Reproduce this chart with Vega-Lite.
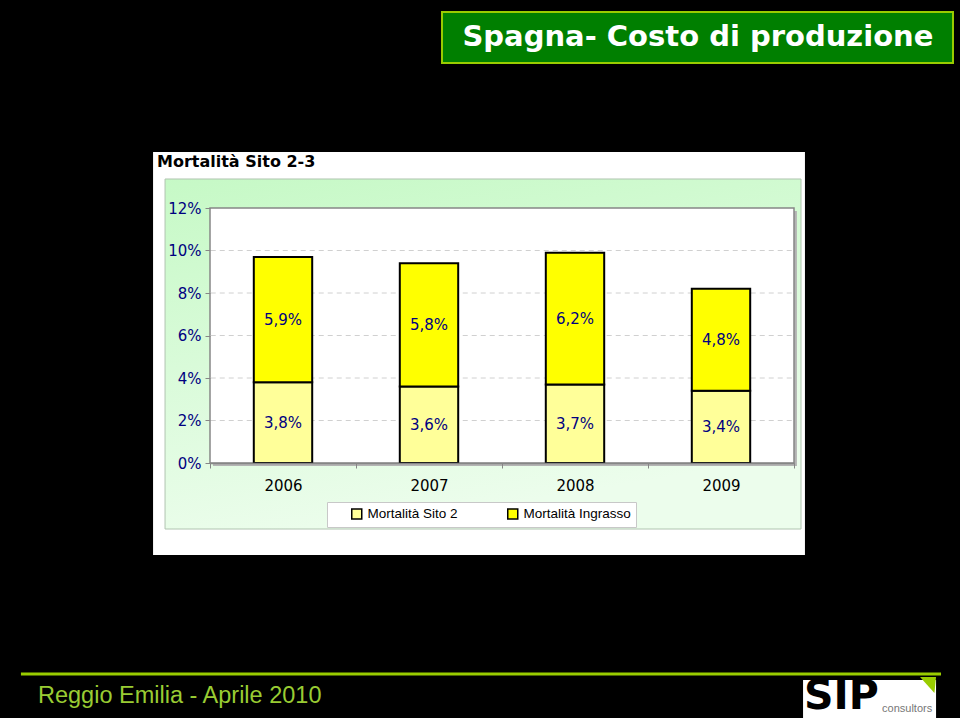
{
  "$schema": "https://vega.github.io/schema/vega-lite/v6.json",
  "background": "black",
  "autosize": {"type": "none"},
  "width": 584,
  "height": 255,
  "padding": {"left": 210, "top": 208, "right": 166, "bottom": 255},
  "config": {
    "locale": {"number": {"decimal": ",", "thousands": ".", "grouping": [3], "currency": ["€", ""]}},
    "view": {"stroke": null}
  },
  "resolve": {"scale": {"x": "independent", "y": "independent"}},
  "layer": [
    {
      "data": {"values": [{}]},
      "layer": [
        {
          "mark": {"type": "rect", "fill": "white"},
          "encoding": {
            "x": {"datum": -0.39, "type": "quantitative", "scale": {"domain": [0, 4], "nice": false, "zero": false}, "axis": null},
            "x2": {"datum": 4.075},
            "y": {"datum": -4.329, "type": "quantitative", "scale": {"domain": [0, 12], "nice": false, "zero": false}, "axis": null},
            "y2": {"datum": 14.635}
          }
        },
        {
          "mark": {"type": "rect", "stroke": "#b0c4b0", "strokeWidth": 1,
            "fill": {"gradient": "linear", "x1": 0, "y1": 0, "x2": 0.3, "y2": 1,
              "stops": [{"offset": 0, "color": "#c6f9c6"}, {"offset": 1, "color": "#ecfdec"}]}},
          "encoding": {
            "x": {"datum": -0.308, "type": "quantitative", "scale": {"domain": [0, 4], "nice": false, "zero": false}, "axis": null},
            "x2": {"datum": 4.048},
            "y": {"datum": -3.106, "type": "quantitative", "scale": {"domain": [0, 12], "nice": false, "zero": false}, "axis": null},
            "y2": {"datum": 13.365}
          }
        },
        {
          "mark": {"type": "rect", "fill": "#b4b4b4"},
          "encoding": {
            "x": {"datum": 0.02, "type": "quantitative", "scale": {"domain": [0, 4], "nice": false, "zero": false}, "axis": null},
            "x2": {"datum": 4.02},
            "y": {"datum": -0.14, "type": "quantitative", "scale": {"domain": [0, 12], "nice": false, "zero": false}, "axis": null},
            "y2": {"datum": 11.86}
          }
        },
        {
          "mark": {"type": "rect", "fill": "white", "stroke": "#868686", "strokeWidth": 1.5},
          "encoding": {
            "x": {"datum": 0, "type": "quantitative", "scale": {"domain": [0, 4], "nice": false, "zero": false}, "axis": null},
            "x2": {"datum": 4},
            "y": {"datum": 0, "type": "quantitative", "scale": {"domain": [0, 12], "nice": false, "zero": false}, "axis": null},
            "y2": {"datum": 12}
          }
        },
        {
          "data": {"values": [{"livello": 2}, {"livello": 4}, {"livello": 6}, {"livello": 8}, {"livello": 10}]},
          "mark": {"type": "rule", "stroke": "#d0d0d0", "strokeWidth": 1, "strokeDash": [5, 4]},
          "encoding": {
            "x": {"datum": 0.005, "type": "quantitative", "scale": {"domain": [0, 4], "nice": false, "zero": false}, "axis": null},
            "x2": {"datum": 3.995},
            "y": {"field": "livello", "type": "quantitative", "scale": {"domain": [0, 12], "nice": false, "zero": false}, "axis": null}
          }
        },
        {
          "mark": {"type": "text", "text": "Mortalità Sito 2-3", "font": "DejaVu Sans", "fontWeight": "bold", "fontSize": 16, "fill": "black", "align": "left", "baseline": "middle"},
          "encoding": {
            "x": {"datum": -0.363, "type": "quantitative", "scale": {"domain": [0, 4], "nice": false, "zero": false}, "axis": null},
            "y": {"datum": 14.165, "type": "quantitative", "scale": {"domain": [0, 12], "nice": false, "zero": false}, "axis": null}
          }
        },
        {
          "mark": {"type": "rect", "fill": "#007f00", "stroke": "#99cc00", "strokeWidth": 2},
          "encoding": {
            "x": {"datum": 1.589, "type": "quantitative", "scale": {"domain": [0, 4], "nice": false, "zero": false}, "axis": null},
            "x2": {"datum": 5.089},
            "y": {"datum": 18.824, "type": "quantitative", "scale": {"domain": [0, 12], "nice": false, "zero": false}, "axis": null},
            "y2": {"datum": 21.224}
          }
        },
        {
          "mark": {"type": "text", "text": "Spagna- Costo di produzione", "font": "DejaVu Sans", "fontWeight": "bold", "fontSize": 29, "fill": "white", "align": "center", "baseline": "middle"},
          "encoding": {
            "x": {"datum": 3.342, "type": "quantitative", "scale": {"domain": [0, 4], "nice": false, "zero": false}, "axis": null},
            "y": {"datum": 20.047, "type": "quantitative", "scale": {"domain": [0, 12], "nice": false, "zero": false}, "axis": null}
          }
        },
        {
          "mark": {"type": "rule", "stroke": "#99cc00", "strokeWidth": 3},
          "encoding": {
            "x": {"datum": -1.295, "type": "quantitative", "scale": {"domain": [0, 4], "nice": false, "zero": false}, "axis": null},
            "x2": {"datum": 5.007},
            "y": {"datum": -9.929, "type": "quantitative", "scale": {"domain": [0, 12], "nice": false, "zero": false}, "axis": null}
          }
        },
        {
          "mark": {"type": "text", "text": "Reggio Emilia - Aprile 2010", "font": "Liberation Sans", "fontSize": 23.5, "fill": "#99cc33", "align": "left", "baseline": "middle"},
          "encoding": {
            "x": {"datum": -1.178, "type": "quantitative", "scale": {"domain": [0, 4], "nice": false, "zero": false}, "axis": null},
            "y": {"datum": -10.965, "type": "quantitative", "scale": {"domain": [0, 12], "nice": false, "zero": false}, "axis": null}
          }
        },
        {
          "mark": {"type": "rect", "fill": "white"},
          "encoding": {
            "x": {"datum": 4.062, "type": "quantitative", "scale": {"domain": [0, 4], "nice": false, "zero": false}, "axis": null},
            "x2": {"datum": 4.973},
            "y": {"datum": -12.0, "type": "quantitative", "scale": {"domain": [0, 12], "nice": false, "zero": false}, "axis": null},
            "y2": {"datum": -10.212}
          }
        },
        {
          "mark": {"type": "text", "text": "SIP", "font": "DejaVu Sans", "fontWeight": "bold", "fontSize": 41, "fill": "black", "align": "left", "baseline": "bottom"},
          "encoding": {
            "x": {"datum": 4.068, "type": "quantitative", "scale": {"domain": [0, 4], "nice": false, "zero": false}, "axis": null},
            "y": {"datum": -11.98, "type": "quantitative", "scale": {"domain": [0, 12], "nice": false, "zero": false}, "axis": null}
          }
        },
        {
          "mark": {"type": "text", "text": "consultors", "font": "Liberation Sans", "fontSize": 11, "fill": "#777777", "align": "left", "baseline": "alphabetic"},
          "encoding": {
            "x": {"datum": 4.603, "type": "quantitative", "scale": {"domain": [0, 4], "nice": false, "zero": false}, "axis": null},
            "y": {"datum": -11.718, "type": "quantitative", "scale": {"domain": [0, 12], "nice": false, "zero": false}, "axis": null}
          }
        },
        {
          "mark": {"type": "point", "filled": true, "fill": "#99cc00", "opacity": 1, "size": 256, "shape": "M -1 -1 L 1 -1 L 0.8 1 Z"},
          "encoding": {
            "x": {"datum": 4.918, "type": "quantitative", "scale": {"domain": [0, 4], "nice": false, "zero": false}, "axis": null},
            "y": {"datum": -10.447, "type": "quantitative", "scale": {"domain": [0, 12], "nice": false, "zero": false}, "axis": null}
          }
        }
      ]
    },
    {
      "data": {"values": [
        {"anno": "2006", "serie": "Mortalità Sito 2", "ordine": 1, "valore": 0.038},
        {"anno": "2006", "serie": "Mortalità Ingrasso", "ordine": 2, "valore": 0.059},
        {"anno": "2007", "serie": "Mortalità Sito 2", "ordine": 1, "valore": 0.036},
        {"anno": "2007", "serie": "Mortalità Ingrasso", "ordine": 2, "valore": 0.058},
        {"anno": "2008", "serie": "Mortalità Sito 2", "ordine": 1, "valore": 0.037},
        {"anno": "2008", "serie": "Mortalità Ingrasso", "ordine": 2, "valore": 0.062},
        {"anno": "2009", "serie": "Mortalità Sito 2", "ordine": 1, "valore": 0.034},
        {"anno": "2009", "serie": "Mortalità Ingrasso", "ordine": 2, "valore": 0.048}
      ]},
      "layer": [
        {
          "mark": {"type": "bar", "stroke": "black", "strokeWidth": 2, "width": {"band": 0.4}},
          "encoding": {
            "x": {"field": "anno", "type": "nominal", "title": null,
              "scale": {"paddingInner": 0, "paddingOuter": 0},
              "axis": {"zindex": 1, "labelAngle": 0, "domainColor": "#868686", "domainWidth": 1.5, "tickColor": "#868686", "tickBand": "extent", "tickSize": 5,
                "labelFont": "DejaVu Sans", "labelFontSize": 15, "labelColor": "black", "labelPadding": 10}},
            "y": {"field": "valore", "type": "quantitative", "stack": "zero", "title": null,
              "scale": {"domain": [0, 0.12], "nice": false},
              "axis": {"zindex": 1, "format": ".0%", "values": [0, 0.02, 0.04, 0.06, 0.08, 0.1, 0.12], "grid": false, "domain": false,
                "ticks": true, "tickColor": "#868686", "tickSize": 5, "labelFont": "DejaVu Sans", "labelFontSize": 15,
                "labelColor": "#000080", "labelPadding": 4}},
            "color": {"field": "serie", "type": "nominal",
              "scale": {"domain": ["Mortalità Sito 2", "Mortalità Ingrasso"], "range": ["#ffff99", "#ffff00"]},
              "legend": {"title": null, "orient": "none", "legendX": 117, "legendY": 294, "direction": "horizontal",
                "fillColor": "white", "strokeColor": "#c8c8c8", "padding": 5, "symbolType": "square", "symbolSize": 100,
                "symbolStrokeColor": "black", "symbolStrokeWidth": 1.5, "labelFont": "Liberation Sans", "labelFontSize": 13.5,
                "labelColor": "black", "columnPadding": 30, "symbolOffset": 18, "labelOffset": 4, "zindex": 1}},
            "order": {"field": "ordine", "type": "quantitative"}
          }
        },
        {
          "transform": [
            {"stack": "valore", "groupby": ["anno"], "sort": [{"field": "ordine", "order": "ascending"}], "as": ["v0", "v1"]},
            {"fold": ["v0", "v1"], "as": ["estremo", "livello"]},
            {"aggregate": [{"op": "mean", "field": "livello", "as": "centro"}], "groupby": ["anno", "serie", "valore"]}
          ],
          "mark": {"type": "text", "font": "DejaVu Sans", "fontSize": 15, "fill": "#000080", "align": "center", "baseline": "middle"},
          "encoding": {
            "x": {"field": "anno", "type": "nominal", "title": null},
            "y": {"field": "centro", "type": "quantitative", "title": null},
            "text": {"field": "valore", "type": "quantitative", "format": ".1%"}
          }
        }
      ]
    }
  ]
}
